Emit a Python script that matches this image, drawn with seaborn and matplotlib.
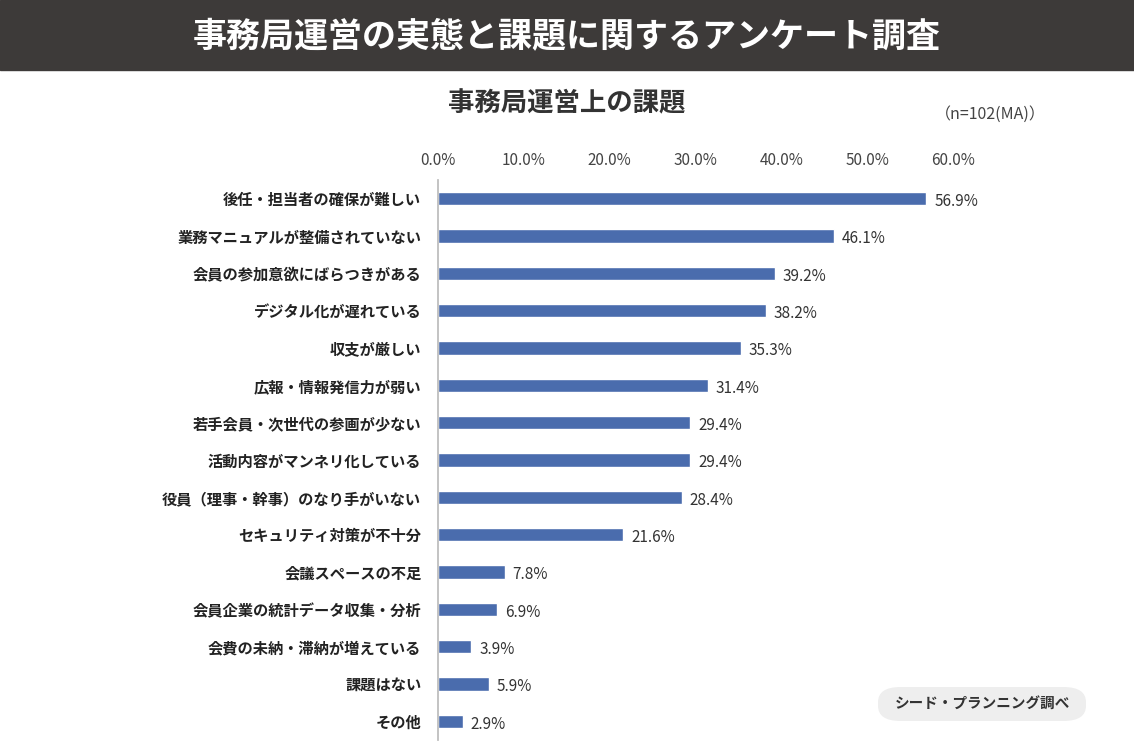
import matplotlib
matplotlib.use("Agg")
import matplotlib.pyplot as plt
import seaborn as sns
import pandas as pd
from matplotlib.patches import FancyBboxPatch, Rectangle

categories = ["後任・担当者の確保が難しい","業務マニュアルが整備されていない","会員の参加意欲にばらつきがある",
              "デジタル化が遅れている","収支が厳しい","広報・情報発信力が弱い","若手会員・次世代の参画が少ない",
              "活動内容がマンネリ化している","役員（理事・幹事）のなり手がいない","セキュリティ対策が不十分",
              "会議スペースの不足","会員企業の統計データ収集・分析","会費の未納・滞納が増えている","課題はない","その他"]
values = [56.9,46.1,39.2,38.2,35.3,31.4,29.4,29.4,28.4,21.6,7.8,6.9,3.9,5.9,2.9]
ticks = [0,10,20,30,40,50,60]

sns.set_theme(style="white")
plt.rcParams['font.family'] = ['Noto Sans CJK JP', 'DejaVu Sans']

fig = plt.figure(figsize=(11.34,7.56), dpi=100)
fig.patches.append(Rectangle((0,1-70/756),1,70/756,transform=fig.transFigure,color="#3d3a39",zorder=0))
fig.text(0.5,1-37/756,"事務局運営の実態と課題に関するアンケート調査",color="white",fontsize=24.5,fontweight="bold",ha="center",va="center")
fig.text(0.5,1-104/756,"事務局運営上の課題",color="#333333",fontsize=19,fontweight="bold",ha="center",va="center")
fig.text(990/1134,1-114/756,"（n=102(MA)）",color="#444444",fontsize=11.5,ha="center",va="center")

ax = fig.add_axes([438/1134, 1-740/756, 558/1134, 560/756])
df = pd.DataFrame({"cat":categories,"val":values})
sns.barplot(data=df,x="val",y="cat",color="#4a6cad",saturation=1,width=0.36,ax=ax)
ax.set_xlim(0,65)
ax.set_ylim(14.5,-0.5)
ax.xaxis.tick_top()
ax.set_xticks(ticks)
ax.set_xticklabels([f"{t:.1f}%" for t in ticks],fontsize=11,color="#444444")
ax.tick_params(axis="x",length=0,pad=8)
ax.tick_params(axis="y",length=0,pad=12)
for lab in ax.get_yticklabels():
    lab.set_fontweight("bold"); lab.set_fontsize(11); lab.set_color("#222222")
ax.set_xlabel(""); ax.set_ylabel("")
for s in ["top","right","bottom"]:
    ax.spines[s].set_visible(False)
ax.spines["left"].set_color("#bbbbbb")
for i,v in enumerate(values):
    ax.text(v+0.9,i+0.08,f"{v:.1f}%",va="center",ha="left",fontsize=11,color="#333333")

fig.patches.append(FancyBboxPatch((878/1134,1-721/756),208/1134,34/756,boxstyle="round,pad=0,rounding_size=0.02",
                                  transform=fig.transFigure,facecolor="#eeeeee",edgecolor="none"))
fig.text(982/1134,1-704/756,"シード・プランニング調べ",fontsize=10.5,fontweight="bold",color="#333333",ha="center",va="center")
fig.savefig("out.png",dpi=100)
